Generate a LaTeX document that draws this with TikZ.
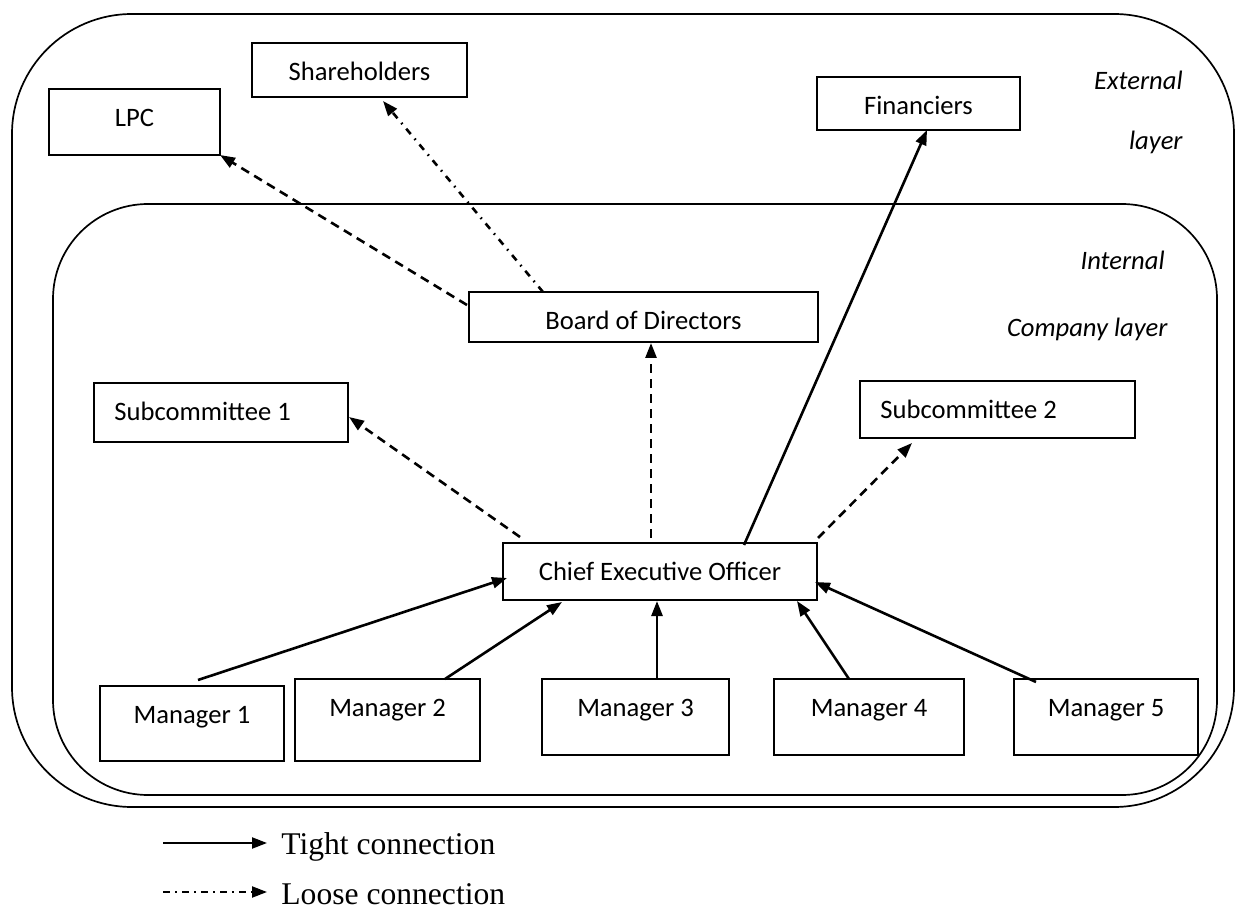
\documentclass[tikz,border=0pt]{standalone}
\usepackage{fontspec}
\setmainfont{Carlito}
\newfontfamily\legendfont{Liberation Serif}
\usetikzlibrary{arrows.meta,calc,fit}

% a bordered box spanning (x1,y1)-(x2,y2) with its label set near the top
\newcommand\orgbox[6]{%
  \node[box, fit={(#2,#3) (#4,#5)}] (#1) {};
  \node[lbl, anchor=base] (#1-text) at ($(#1.north)+(0,37.5)$) {#6};}
% same, with the label set flush left
\newcommand\orgboxleft[6]{%
  \node[box, fit={(#2,#3) (#4,#5)}] (#1) {};
  \node[lbl, anchor=base west] (#1-text) at ($(#1.north west)+(20,37.5)$) {#6};}

\tikzset{
  box/.style={draw, line width=1.15pt, inner sep=0pt, outer sep=0pt, rectangle},
  lbl/.style={font=\fontsize{13.3}{16}\selectfont, inner sep=0pt},
  layerlbl/.style={font=\fontsize{13.3}{16}\selectfont\itshape, inner sep=0pt, anchor=base east},
  layerbox/.style={draw, line width=0.85pt, inner sep=0pt, outer sep=0pt, rectangle},
  legendtext/.style={font=\legendfont\fontsize{15.8}{19}\selectfont, inner sep=0pt, anchor=base west},
  tight/.style={line width=1.3pt, -{Triangle[length=7.5pt,width=5.5pt]}},
  loose/.style={tight, dash pattern=on 4.5pt off 3pt},
  loosedot/.style={tight, dash pattern=on 3.5pt off 3pt on 0.8pt off 3pt},
}

\begin{document}
\begin{tikzpicture}[x=0.5pt, y=-0.5pt]
\useasboundingbox (0,0) rectangle (1236,908);

% company layers
\node[layerbox, rounded corners=60pt, fit={(12,14) (1234,807)}] (outer) {};
\node[layerbox, rounded corners=47.5pt, fit={(53,204) (1217,795)}] (inner) {};

\node[layerlbl] (extA) at (1183,90) {External};
\node[layerlbl] (extB) at (1183,150) {layer};
\node[layerlbl] (intA) at (1165,270) {Internal};
\node[layerlbl] (intB) at (1168,337) {Company layer};

% external parties
\orgbox{lpc}{49}{89}{220}{155}{LPC}
\orgbox{share}{252}{43}{467}{97}{Shareholders}
\orgbox{fin}{817}{77}{1020}{130}{Financiers}

% internal structure
\orgbox{bod}{469}{292}{818}{342}{Board of Directors}
\orgboxleft{sub1}{94}{383}{348}{442}{Subcommittee 1}
\orgboxleft{sub2}{860}{381}{1135}{438}{Subcommittee 2}
\orgbox{ceo}{503}{543}{817}{600}{Chief Executive Officer}
\orgbox{m1}{100}{686}{284}{761}{Manager 1}
\orgbox{m2}{295}{679}{480}{761}{Manager 2}
\orgbox{m3}{542}{679}{729}{755}{Manager 3}
\orgbox{m4}{774}{679}{964}{755}{Manager 4}
\orgbox{m5}{1014}{679}{1198}{755}{Manager 5}

% connections
\draw[loose] ($(bod.north west)+(-2,13)$) -- (lpc.south east);
\draw[loosedot] ($(bod.north west)+(74,0)$) -- ($(share.south west)+(131,4)$);
\draw[tight] ($(ceo.north west)+(241,2)$) -- ($(fin.south west)+(110,0)$);
\draw[loose] ($(ceo.north west)+(148,-5)$) -- ($(bod.south west)+(182,1)$);
\draw[loose] ($(ceo.north west)+(17,-6)$) -- ($(sub1.north east)+(1,34)$);
\draw[loose] ($(ceo.north east)+(1,-5)$) -- ($(sub2.south west)+(52,5)$);

\draw[tight] ($(m1.north west)+(98,-6)$) -- ($(ceo.north west)+(4,35)$);
\draw[tight] ($(m2.north west)+(150,0)$) -- ($(ceo.south west)+(59,2)$);
\draw[tight] ($(m3.north west)+(115,0)$) -- ($(ceo.south west)+(154,1)$);
\draw[tight] ($(m4.north west)+(75,0)$) -- ($(ceo.south west)+(294,1)$);
\draw[tight] ($(m5.north west)+(22,3)$) -- ($(ceo.north east)+(-2,39)$);

% legend
\coordinate (tightA) at (163,843);
\coordinate (tightB) at (267,843);
\coordinate (looseA) at (163,892);
\coordinate (looseB) at (267,892);
\draw[tight, line width=1.1pt] (tightA) -- (tightB);
\draw[loosedot, line width=1.1pt, dash pattern=on 3.5pt off 2.5pt on 1pt off 2.5pt] (looseA) -- (looseB);
\node[legendtext] (tightlbl) at (281,854) {Tight connection};
\node[legendtext] (looselbl) at (281,904) {Loose connection};
\end{tikzpicture}
\end{document}
